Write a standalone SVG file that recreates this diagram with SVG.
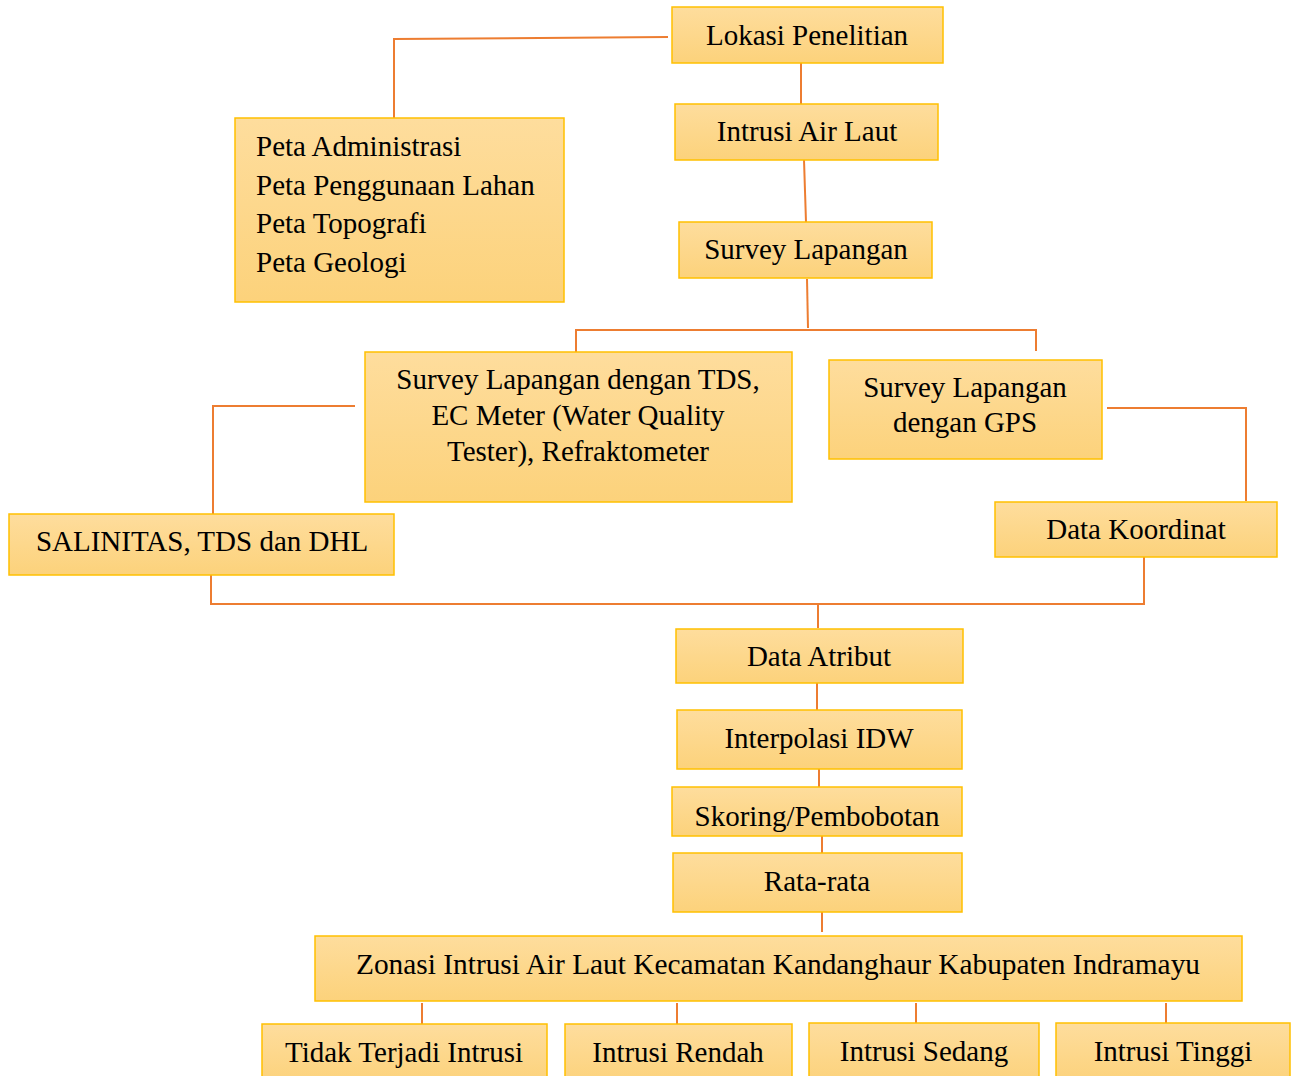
<svg xmlns="http://www.w3.org/2000/svg" width="1293" height="1076" viewBox="0 0 1293 1076">
<defs>
<linearGradient id="g" x1="0" y1="0" x2="0" y2="1">
<stop offset="0" stop-color="#FEDD9D"/>
<stop offset="1" stop-color="#FCD27B"/>
</linearGradient>
<clipPath id="skc"><rect x="672" y="787" width="290" height="49"/></clipPath>
</defs>
<style>
.box{fill:url(#g);stroke:#FFC000;stroke-width:1.5}
.t{font-family:"Liberation Serif","Times New Roman","DejaVu Serif",serif;font-size:29px;fill:#000;text-anchor:middle}
.tl{font-family:"Liberation Serif","Times New Roman","DejaVu Serif",serif;font-size:29px;fill:#000}
.c{stroke:#ED7D31;stroke-width:2;fill:none}
</style>
<rect width="1293" height="1076" fill="#fff"/>
<g id="connectors">
<polyline class="c" points="668,37 394,39 394,118"/>
<line class="c" x1="801" y1="63" x2="801" y2="104"/>
<line class="c" x1="804" y1="160" x2="806" y2="222"/>
<line class="c" x1="807" y1="279" x2="808" y2="328"/>
<polyline class="c" points="576,352 576,330 1036,330 1036,351"/>
<polyline class="c" points="355,406 213,406 213,514"/>
<polyline class="c" points="1107,408 1246,408 1246,501"/>
<polyline class="c" points="211,575 211,604 1144,604 1144,557"/>
<line class="c" x1="818" y1="604" x2="818" y2="628"/>
<line class="c" x1="817" y1="683" x2="817" y2="710"/>
<line class="c" x1="819" y1="769" x2="819" y2="787"/>
<line class="c" x1="822" y1="836" x2="822" y2="853"/>
<line class="c" x1="822" y1="912" x2="822" y2="932"/>
<line class="c" x1="422" y1="1003" x2="422" y2="1024"/>
<line class="c" x1="677" y1="1003" x2="677" y2="1024"/>
<line class="c" x1="916" y1="1003" x2="916" y2="1023"/>
<line class="c" x1="1166" y1="1003" x2="1166" y2="1023"/>
</g>
<g id="lokasi"><rect class="box" x="672" y="7" width="271" height="56"/><text class="t" x="807" y="45">Lokasi Penelitian</text></g>
<g id="intrusi"><rect class="box" x="675" y="104" width="263" height="56"/><text class="t" x="807" y="141">Intrusi Air Laut</text></g>
<g id="survey"><rect class="box" x="679" y="222" width="253" height="56"/><text class="t" x="806" y="259">Survey Lapangan</text></g>
<g id="peta"><rect class="box" x="235" y="118" width="329" height="184"/>
<text class="tl" x="256" y="156">Peta Administrasi</text>
<text class="tl" x="256" y="195">Peta Penggunaan Lahan</text>
<text class="tl" x="256" y="233">Peta Topografi</text>
<text class="tl" x="256" y="272">Peta Geologi</text></g>
<g id="survey-tds"><rect class="box" x="365" y="352" width="427" height="150"/>
<text class="t" x="578" y="389">Survey Lapangan dengan TDS,</text>
<text class="t" x="578" y="425">EC Meter (Water Quality</text>
<text class="t" x="578" y="461">Tester), Refraktometer</text></g>
<g id="survey-gps"><rect class="box" x="829" y="360" width="273" height="99"/>
<text class="t" x="965" y="397">Survey Lapangan</text>
<text class="t" x="965" y="432">dengan GPS</text></g>
<g id="salinitas"><rect class="box" x="9" y="514" width="385" height="61"/><text class="t" x="202" y="551">SALINITAS, TDS dan DHL</text></g>
<g id="koordinat"><rect class="box" x="995" y="502" width="282" height="55"/><text class="t" x="1136" y="539">Data Koordinat</text></g>
<g id="atribut"><rect class="box" x="676" y="629" width="287" height="54"/><text class="t" x="819" y="666">Data Atribut</text></g>
<g id="idw"><rect class="box" x="677" y="710" width="285" height="59"/><text class="t" x="819" y="748">Interpolasi IDW</text></g>
<g id="skoring"><rect class="box" x="672" y="787" width="290" height="49"/><text class="t" x="817" y="826" clip-path="url(#skc)">Skoring/Pembobotan</text></g>
<g id="rata"><rect class="box" x="673" y="853" width="289" height="59"/><text class="t" x="817" y="891">Rata-rata</text></g>
<g id="zonasi"><rect class="box" x="315" y="936" width="927" height="65"/><text class="tl" x="356" y="974" textLength="844" lengthAdjust="spacingAndGlyphs">Zonasi Intrusi Air Laut Kecamatan Kandanghaur Kabupaten Indramayu</text></g>
<g id="tidak"><rect class="box" x="262" y="1024" width="285" height="60"/><text class="t" x="404" y="1062">Tidak Terjadi Intrusi</text></g>
<g id="rendah"><rect class="box" x="565" y="1024" width="227" height="60"/><text class="t" x="678" y="1062">Intrusi Rendah</text></g>
<g id="sedang"><rect class="box" x="809" y="1023" width="230" height="60"/><text class="t" x="924" y="1061">Intrusi Sedang</text></g>
<g id="tinggi"><rect class="box" x="1056" y="1023" width="234" height="60"/><text class="t" x="1173" y="1061">Intrusi Tinggi</text></g>
</svg>
